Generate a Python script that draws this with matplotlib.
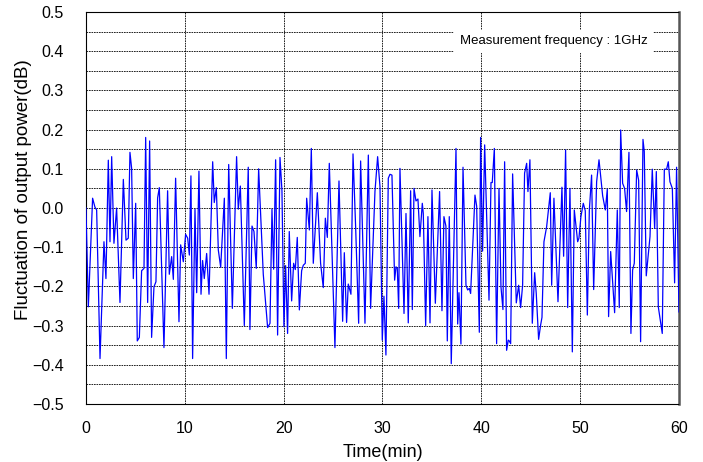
import numpy as np
import matplotlib.pyplot as plt

# time (min) and fluctuation (dB)
time_min = [0.00, 0.24, 0.67, 0.91, 1.08, 1.42, 1.82, 2.02, 2.26, 2.43, 2.60, 2.83,
            3.10, 3.44, 3.78, 4.05, 4.28, 4.45, 4.62, 4.79, 5.03, 5.19, 5.40, 5.63,
            5.87, 6.04, 6.24, 6.44, 6.64, 6.88, 7.08, 7.25, 7.42, 7.89, 8.26, 8.43,
            8.67, 8.84, 9.07, 9.41, 9.58, 9.85, 10.08, 10.29, 10.46,
            10.62, 10.79, 11.03, 11.20, 11.43, 11.64, 11.80, 11.97, 12.21, 12.45,
            12.82, 12.98, 13.19, 13.39, 13.63, 14.00, 14.20, 14.44, 14.81, 15.24,
            15.41, 15.62, 16.02, 16.42, 16.59, 16.80, 17.00, 17.23, 17.47, 17.94,
            18.38, 18.62, 18.82, 18.99, 19.19, 19.39, 19.63, 19.83, 20.03, 20.20,
            20.40, 20.57,
            20.81, 21.01, 21.18, 21.38, 21.59, 21.82, 21.99, 22.19, 22.33, 22.60,
            22.80, 23.00, 23.41, 23.74, 24.01, 24.22, 24.42, 24.62, 25.19, 25.60,
            25.97, 26.14, 26.37, 26.54, 26.71, 26.81, 27.02, 27.29, 27.59, 27.79,
            28.23, 28.57, 28.80, 29.24, 29.51, 29.75, 29.98, 30.15, 30.35, 30.59,
            30.76,
            30.96, 31.23, 31.37, 31.50, 31.64, 31.77, 32.18, 32.38, 32.61, 32.85,
            33.02, 33.19, 33.39, 33.59, 33.79, 34.03, 34.13, 34.37, 34.60, 34.81,
            35.01, 35.35, 35.78, 36.02, 36.22, 36.42, 36.56, 36.76, 36.96, 37.44,
            37.61, 37.74, 37.94, 38.15, 38.45, 38.62, 38.79, 38.92, 39.36, 39.53,
            39.80, 39.93, 40.13, 40.34,
            40.78, 40.98, 41.11, 41.32, 41.55, 41.79, 41.99, 42.19, 42.36, 42.56,
            42.73, 42.83, 42.97, 43.17, 43.54, 43.78, 43.98, 44.18, 44.38, 44.59,
            44.72, 44.92, 45.16, 45.40, 45.56, 45.80, 46.00, 46.14, 46.34, 46.61,
            46.98, 47.12, 47.35, 47.76, 48.16, 48.33, 48.53, 48.74, 48.97, 49.21,
            49.41, 49.75, 49.88, 50.08, 50.32, 50.52, 50.73, 50.93,
            51.16, 51.37, 51.67, 51.91, 52.28, 52.55, 52.75, 52.88, 53.09, 53.49,
            53.76, 53.96, 54.10, 54.30, 54.50, 54.70, 54.94, 55.14, 55.31, 55.48,
            55.72, 55.92, 56.12, 56.36, 56.49, 56.69, 57.07, 57.30, 57.54, 57.71,
            57.91, 58.31, 58.52, 58.75, 58.92, 59.09, 59.33, 59.56, 59.76, 60.00]

power_db = [0.000, -0.252, 0.025, 0.002, -0.005, -0.384, -0.086, -0.180, 0.122, -0.086,
            0.131, -0.090, 0.000, -0.241, 0.073, -0.082, -0.077, 0.142, 0.101, -0.180,
            0.012, -0.339, -0.330, -0.160, -0.154, 0.180, -0.241, 0.171, -0.330, -0.201,
            -0.188, 0.026, 0.052, -0.356, 0.044, -0.169, -0.124, -0.182, 0.076, -0.290,
            -0.094, -0.137, -0.067, -0.077, -0.120,
            0.082, -0.384, -0.003, -0.216, 0.094, -0.220, -0.134, -0.180, -0.116, -0.220,
            0.118, 0.014, 0.052, -0.107, -0.151, 0.025, -0.384, 0.111, -0.256, 0.131,
            -0.003, 0.056, -0.300, 0.104, -0.310, -0.046, -0.060, -0.154, 0.100, -0.169,
            -0.305, -0.294, -0.003, -0.156, 0.123, -0.324, 0.129, 0.044, -0.303, -0.147,
            -0.320, -0.060,
            -0.237, -0.141, -0.157, -0.075, -0.260, -0.160, -0.146, -0.141, 0.025, -0.056,
            0.152, -0.141, 0.039, -0.141, -0.203, -0.026, -0.075, 0.114, -0.356, 0.069,
            -0.289, -0.114, -0.292, -0.194, -0.211, -0.220, 0.138, -0.052, -0.294, 0.120,
            -0.294, 0.135, -0.256, 0.042, 0.131, 0.054, -0.337, -0.225, -0.375, 0.076,
            0.086,
            0.084, -0.184, -0.150, -0.154, -0.256, 0.101, -0.269, -0.014, -0.293, 0.044,
            -0.259, 0.050, 0.018, 0.023, -0.073, 0.012, -0.014, -0.300, -0.022, -0.293,
            0.046, -0.243, 0.042, -0.262, -0.022, -0.046, -0.339, -0.022, -0.397, 0.152,
            -0.296, -0.216, -0.347, 0.104, -0.197, -0.209, -0.205, -0.218, 0.033, 0.005,
            -0.317, 0.180, -0.110, 0.161,
            -0.235, 0.065, 0.065, 0.152, -0.346, 0.050, -0.201, -0.259, 0.118, -0.363,
            -0.337, -0.339, -0.346, 0.087, -0.242, -0.197, -0.254, -0.197, 0.089, 0.114,
            0.042, 0.123, -0.294, -0.165, -0.218, -0.335, -0.299, -0.279, -0.086, -0.048,
            0.039, -0.197, 0.025, -0.239, 0.053, -0.123, 0.148, -0.254, 0.050, -0.367,
            -0.005, -0.086, -0.077, -0.022, 0.012, -0.007, -0.273, -0.007,
            0.084, -0.208, 0.067, 0.123, 0.031, -0.005, 0.048, -0.277, -0.111, -0.267,
            -0.005, -0.254, 0.199, 0.063, 0.050, -0.009, 0.142, -0.320, -0.158, -0.141,
            0.097, 0.071, -0.341, 0.175, 0.144, -0.173, -0.073, 0.099, -0.052, 0.093,
            -0.252, -0.320, 0.099, 0.099, 0.118, 0.067, 0.050, -0.191, 0.104, -0.265]

xticks = [0, 10, 20, 30, 40, 50, 60]
yticks = [-0.5, -0.4, -0.3, -0.2, -0.1, 0.0, 0.1, 0.2, 0.3, 0.4, 0.5]

plt.rcParams['font.family'] = ['Liberation Sans', 'DejaVu Sans']

fig = plt.figure(figsize=(7.03, 4.62), dpi=100)
ax = fig.add_axes((0.1223, 0.1255, 0.8435, 0.8485))

ax.plot(time_min, power_db, color='#0000ff', lw=0.9, zorder=3)

ax.set_xlim(0, 60)
ax.set_ylim(-0.5, 0.5)
ax.set_xticks(xticks)
ax.set_yticks(yticks)
ax.set_yticklabels([f'{v:.1f}'.replace('-', '\u2212') for v in yticks])
ax.set_yticks(np.arange(-0.45, 0.5, 0.1), minor=True)
ax.tick_params(length=0, labelsize=11.5)
ax.tick_params(axis='y', pad=16)
ax.tick_params(axis='x', pad=12)
ax.tick_params(which='minor', length=0)

# dense dashed grid like the original
dash = (0, (2, 1))
ax.grid(True, which='both', axis='y', color='black', ls=dash, lw=0.6)
ax.grid(True, which='major', axis='x', color='black', ls=dash, lw=0.6)

for s in ['left', 'bottom', 'top']:
    ax.spines[s].set_linestyle(dash)
    ax.spines[s].set_linewidth(0.8)
ax.spines['right'].set_color('#555555')
ax.spines['right'].set_linewidth(1.8)

ax.set_xlabel('Time(min)', fontsize=13, labelpad=6)
ax.set_ylabel('Fluctuation of output power(dB)', fontsize=13.5)
ax.yaxis.set_label_coords(-0.091, 0.548)

ax.text(0.789, 0.425, 'Measurement frequency : 1GHz', fontsize=9.5,
        ha='center', va='center', transform=ax.get_yaxis_transform(),
        bbox=dict(facecolor='white', edgecolor='none', pad=4), zorder=4)

fig.savefig('out.png', dpi=100)
